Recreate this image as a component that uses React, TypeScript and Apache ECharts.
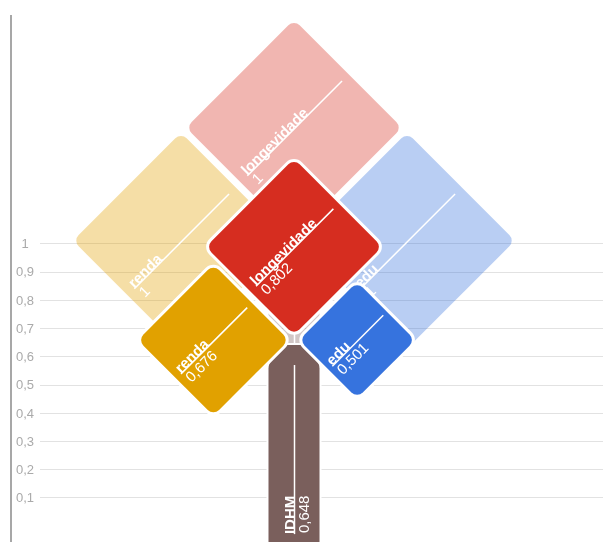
import React, { useEffect, useRef } from "react";
import * as echarts from "echarts";

// ---- data ----
const CATEGORIES = ["IDHM"];
const COMPONENT_NAMES = ["longevidade", "renda", "edu"];
const COMPONENT_VALUES = [0.802, 0.676, 0.501];
const COMPONENT_MAX = [1, 1, 1];
const COMPONENT_COLORS = ["#d62d20", "#e1a100", "#3673de"];
const IDHM_NAME = "IDHM";
const IDHM_VALUE = 0.648;
const IDHM_MAX = 1;
const IDHM_COLOR = "#7a5f5c";
const Y_MIN = 0;
const Y_MAX = 1;
const Y_STEP = 0.1;
const STEM_BASE = -0.1;

// ---- layout constants ----
const CROWN_SCALE = 0.3544; // half diagonal of a crown square per unit value (y units)
const CROWN_PAD = 8; // px added to half diagonal
const CROWN_LIFT = 3; // px the crown anchor sits above the trunk top
const CROWN_GAP = 5; // px
const CORNER_R = 8;
const STEM_HALF_WIDTH = 25.5;
const LIGHT_OPACITY = 0.35;
// direction for each component: up, left, right
const COMPONENT_DIRS = [
  [0, -1],
  [-1, 0],
  [1, 0],
];

const fmt = (v: number) => String(Number(v.toFixed(3))).replace(".", ",");

const FONT = "Arial, 'Liberation Sans', sans-serif";

function labelChildren(name: string, value: number, half: number, offY: number) {
  return [
    {
      type: "line",
      shape: { x1: -half, y1: offY, x2: half, y2: offY },
      style: { stroke: "#fff", lineWidth: 1.5 },
    },
    {
      type: "text",
      x: -half,
      y: offY + 2,
      style: {
        text: name,
        fill: "#fff",
        fontSize: 15,
        fontWeight: "bold",
        fontFamily: FONT,
        align: "left",
        verticalAlign: "bottom",
      },
    },
    {
      type: "text",
      x: -half + 1,
      y: offY + 1,
      style: {
        text: fmt(value),
        fill: "#fff",
        fontSize: 15,
        fontWeight: "normal",
        fontFamily: FONT,
        align: "left",
        verticalAlign: "top",
      },
    },
  ];
}

export default function App() {
  const ref = useRef<HTMLDivElement>(null);
  useEffect(() => {
    if (!ref.current) return;
    const chart = echarts.init(ref.current, null, { renderer: "svg" });

    // data rows: [category, anchorValue, value, kind(-1 stem / comp idx), dark]
    const rows: number[][] = [];
    rows.push([0, IDHM_MAX, IDHM_MAX, -1, 0]);
    COMPONENT_NAMES.forEach((_, i) => rows.push([0, IDHM_MAX, COMPONENT_MAX[i], i, 0]));
    rows.push([0, IDHM_VALUE, IDHM_VALUE, -1, 1]);
    COMPONENT_NAMES.forEach((_, i) => rows.push([0, IDHM_VALUE, COMPONENT_VALUES[i], i, 1]));

    const renderItem = (params: any, api: any) => {
      const cat = api.value(0);
      const anchorV = api.value(1);
      const v = api.value(2);
      const kind = api.value(3);
      const dark = api.value(4) === 1;
      const [ax, ay] = api.coord([cat, anchorV]);
      if (kind < 0) {
        // stem
        const top = ay + 2;
        const bottom = api.coord([cat, STEM_BASE])[1];
        const w = STEM_HALF_WIDTH;
        const f = 7;
        const sh = top + (w - f);
        const k = 5;
        const xl = ax - w;
        const xr = ax + w;
        const d =
          `M ${xl} ${bottom} L ${xl} ${sh + k} Q ${xl} ${sh} ${xl + k * 0.707} ${sh - k * 0.707} ` +
          `L ${ax - f} ${top} L ${ax + f} ${top} L ${xr - k * 0.707} ${sh - k * 0.707} ` +
          `Q ${xr} ${sh} ${xr} ${sh + k} L ${xr} ${bottom} Z`;
        const children: any[] = [];
        if (dark) {
          children.push({
            type: "path",
            shape: { pathData: d },
            style: { fill: "#fff", stroke: "#fff", lineWidth: 4 },
          });
        }
        children.push({
          type: "path",
          shape: { pathData: d },
          style: { fill: IDHM_COLOR, opacity: dark ? 1 : LIGHT_OPACITY },
        });
        const half = (bottom - top) / 2 - 20;
        children.push({
          type: "group",
          x: ax,
          y: (top + bottom) / 2,
          rotation: Math.PI / 2,
          children: labelChildren(IDHM_NAME, v, half, 0.5),
        });
        return { type: "group", children };
      }
      const color = COMPONENT_COLORS[kind];
      const dir = COMPONENT_DIRS[kind];
      const h = api.size([0, v * CROWN_SCALE])[1] + CROWN_PAD;
      const cy0 = ay - CROWN_LIFT;
      const cx = ax + dir[0] * (h + CROWN_GAP);
      const cy = cy0 + dir[1] * (h + CROWN_GAP);
      const side = h * Math.SQRT2;
      const shape = { x: -side / 2, y: -side / 2, width: side, height: side, r: CORNER_R };
      const children: any[] = [];
      if (dark) {
        children.push({
          type: "rect",
          x: cx,
          y: cy,
          rotation: Math.PI / 4,
          shape,
          style: { fill: "#fff", stroke: "#fff", lineWidth: 6 },
        });
      }
      children.push({
        type: "rect",
        x: cx,
        y: cy,
        rotation: Math.PI / 4,
        shape,
        style: { fill: color, opacity: dark ? 1 : LIGHT_OPACITY },
      });
      children.push({
        type: "group",
        x: cx,
        y: cy,
        rotation: Math.PI / 4,
        children: labelChildren(COMPONENT_NAMES[kind], v, 0.62 * h, 1),
      });
      return { type: "group", children };
    };

    chart.setOption({
      animation: false,
      grid: [
        { left: 40, right: 0, top: 243.7, height: 282.2 },
        { left: 11, right: 26, top: 243.7, height: 282.2 },
      ],
      xAxis: [
        { type: "value", gridIndex: 0, show: false, min: 0, max: 1 },
        { type: "category", gridIndex: 1, show: false, data: CATEGORIES },
      ],
      yAxis: [
        {
          type: "value",
          gridIndex: 0,
          min: Y_MIN,
          max: Y_MAX,
          interval: Y_STEP,
          axisLine: { show: false },
          axisTick: { show: false },
          axisLabel: {
            showMinLabel: false,
            color: "#aaaaaa",
            fontSize: 13,
            fontFamily: FONT,
            margin: 15,
            align: "center",
            formatter: (val: number) => fmt(val),
          },
          splitLine: { show: true, showMinLine: false, lineStyle: { color: "#e2e2e2", width: 1 } },
        },
        { type: "value", gridIndex: 1, min: Y_MIN, max: Y_MAX, show: false },
      ],
      graphic: [
        {
          type: "line",
          shape: { x1: 11, y1: 15, x2: 11, y2: 542 },
          style: { stroke: "#8a8a8a", lineWidth: 1.5 },
        },
      ],
      series: [
        {
          type: "line",
          xAxisIndex: 0,
          yAxisIndex: 0,
          data: [],
          silent: true,
        },
        {
          type: "custom",
          xAxisIndex: 1,
          yAxisIndex: 1,
          clip: false,
          renderItem,
          data: rows,
          silent: true,
        },
      ],
    });
    return () => chart.dispose();
  }, []);
  return (
    <div
      ref={ref}
      style={{ position: "fixed", left: 0, top: 0, width: 603, height: 542 }}
    />
  );
}
